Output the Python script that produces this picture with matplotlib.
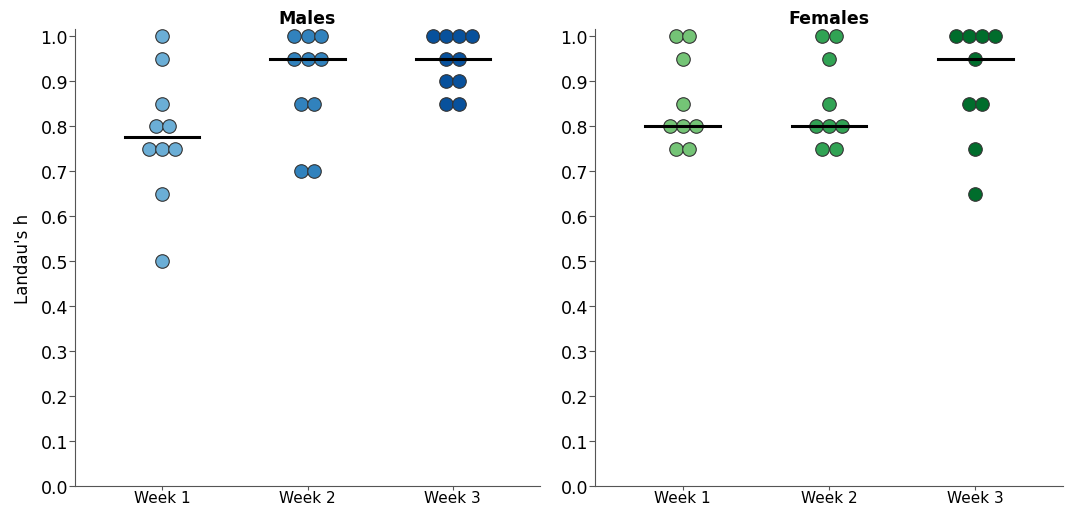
import matplotlib
matplotlib.use("Agg")
import matplotlib.pyplot as plt
import numpy as np
from collections import Counter

plt.rcParams['font.family'] = ['DejaVu Sans']

weeks = ["Week 1", "Week 2", "Week 3"]

males_w1 = [1.0, 0.95, 0.85, 0.8, 0.8, 0.75, 0.75, 0.75, 0.65, 0.5]
males_w2 = [1.0, 1.0, 1.0, 0.95, 0.95, 0.95, 0.85, 0.85, 0.7, 0.7]
males_w3 = [1.0, 1.0, 1.0, 1.0, 0.95, 0.95, 0.9, 0.9, 0.85, 0.85]

females_w1 = [1.0, 1.0, 0.95, 0.85, 0.8, 0.8, 0.8, 0.75, 0.75]
females_w2 = [1.0, 1.0, 0.95, 0.85, 0.8, 0.8, 0.8, 0.75, 0.75]
females_w3 = [1.0, 1.0, 1.0, 1.0, 0.95, 0.85, 0.85, 0.75, 0.65]

male_colors = ["#6baed6", "#3182bd", "#08519c"]
female_colors = ["#74c476", "#31a354", "#006d2c"]

fig = plt.figure(figsize=(10.65, 5.06), dpi=100)
ax1 = fig.add_axes([75/1065, 1-487/506, 465/1065, 457/506])
ax2 = fig.add_axes([595/1065, 1-487/506, 468/1065, 457/506], sharey=ax1)

step = 0.09

def swarm(ax, groups, colors, title):
    for i, vals in enumerate(groups):
        cnt = Counter(vals)
        xs, ys = [], []
        for v, n in cnt.items():
            for k in range(n):
                xs.append(i + (k - (n - 1) / 2) * step)
                ys.append(v)
        ax.scatter(xs, ys, s=95, color=colors[i], edgecolor="#333333",
                   linewidth=0.8, zorder=2)
        med = np.median(vals)
        ax.plot([i - 0.255, i + 0.255], [med, med], color="black", lw=2.2, zorder=3)
    ax.set_xlim(-0.6, 2.6)
    ax.set_ylim(0, 1.0156)
    ax.set_xticks(range(3))
    ax.set_xticklabels(weeks, fontsize=11)
    ax.set_yticks(np.arange(0, 1.01, 0.1))
    ax.set_yticklabels(["%.1f" % t for t in np.arange(0, 1.01, 0.1)], fontsize=12.5)
    ax.tick_params(axis="y", which="both", labelleft=True, length=4, color="#555555", pad=1)
    ax.tick_params(axis="x", length=3, color="#555555", pad=0)
    for s in ["top", "right"]:
        ax.spines[s].set_visible(False)
    for s in ["left", "bottom"]:
        ax.spines[s].set_color("#555555")
    ax.set_title(title, fontsize=12.5, fontweight="bold", pad=4)

swarm(ax1, [males_w1, males_w2, males_w3], male_colors, "Males")
swarm(ax2, [females_w1, females_w2, females_w3], female_colors, "Females")
ax1.set_ylabel("Landau's h", fontsize=12, labelpad=6)

fig.savefig("out.png", dpi=100)
